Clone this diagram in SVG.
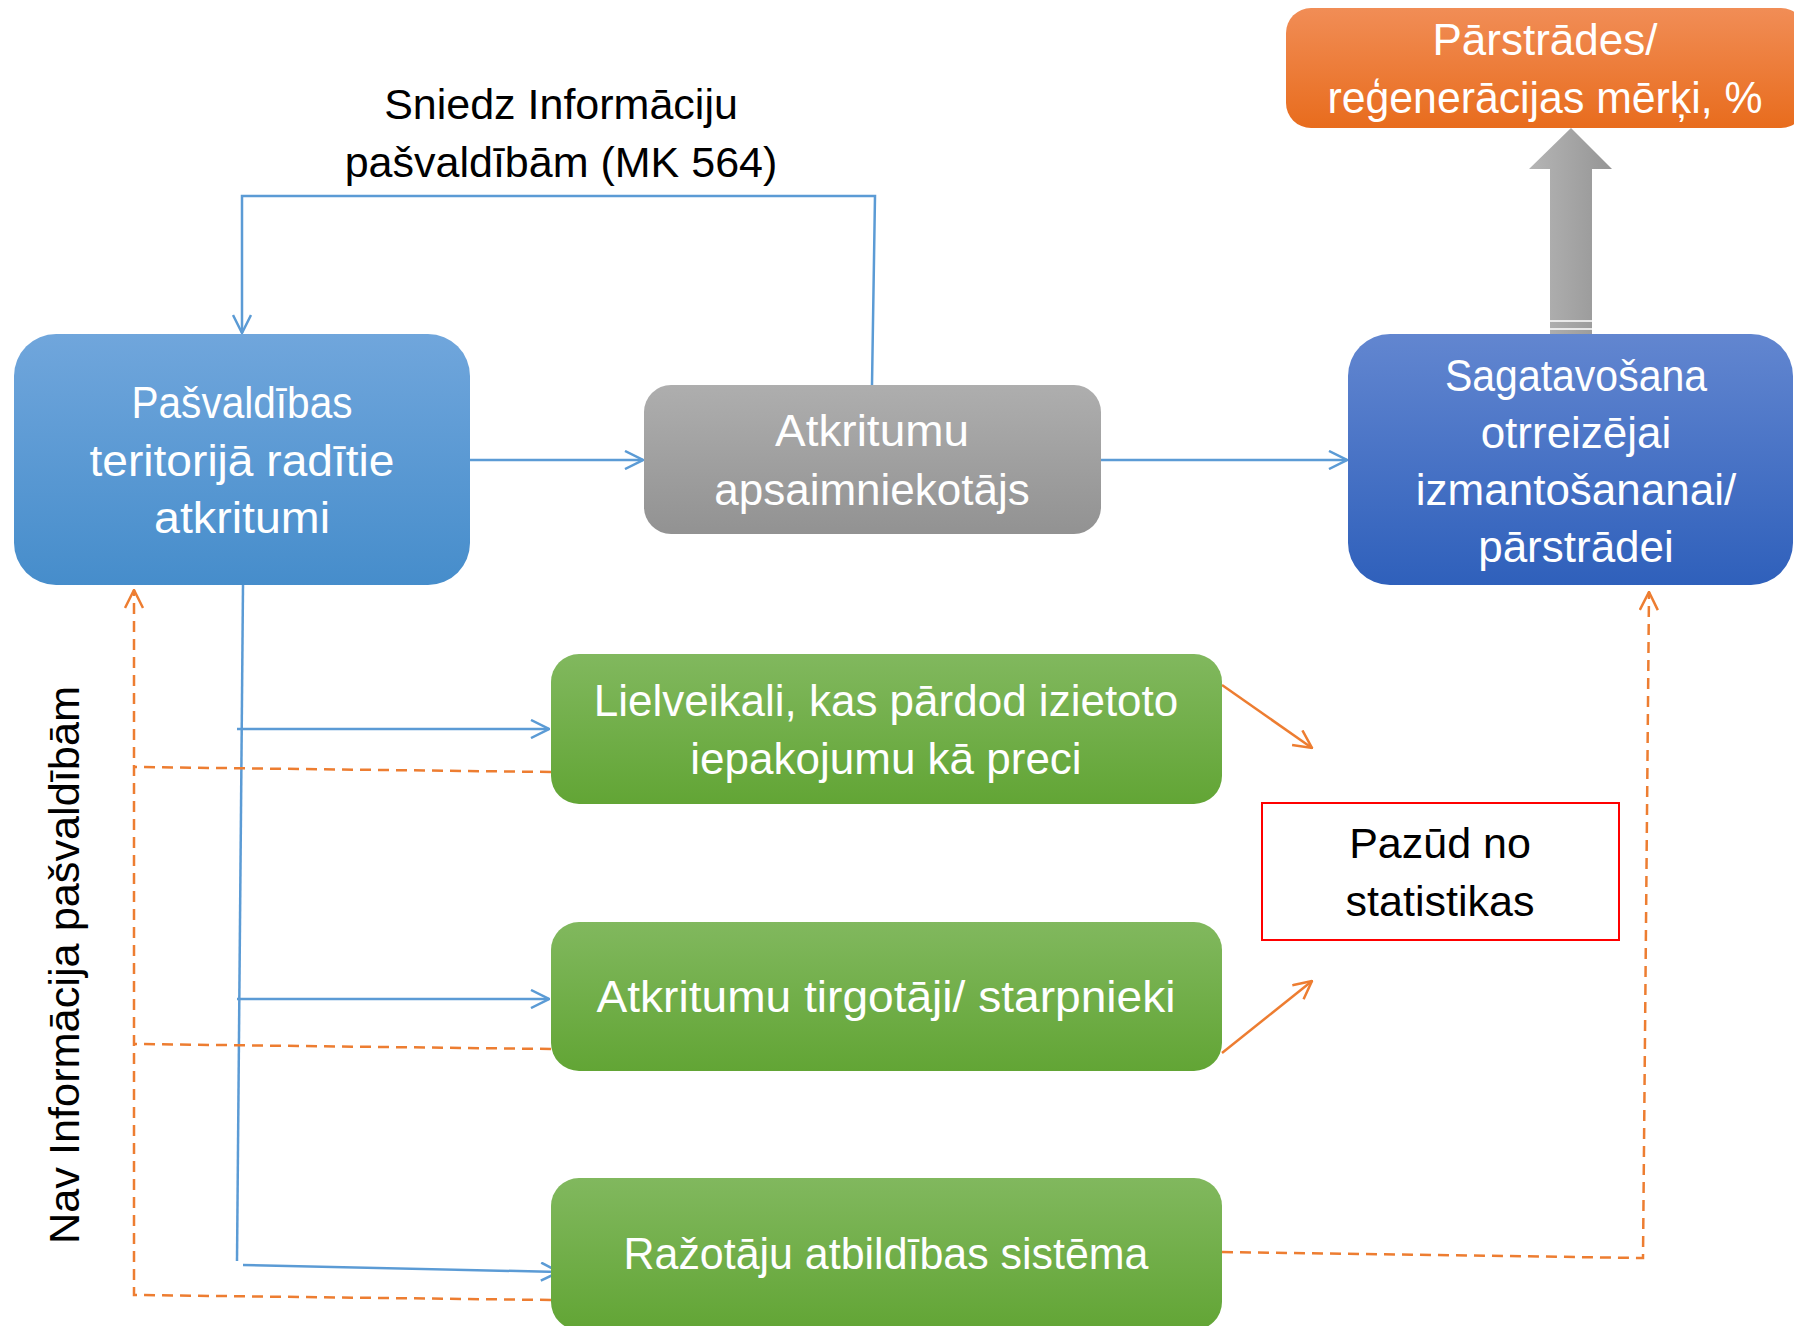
<svg xmlns="http://www.w3.org/2000/svg" width="1794" height="1326" viewBox="0 0 1794 1326">
<defs>
<linearGradient id="gOrange" x1="0" y1="0" x2="0" y2="1"><stop offset="0" stop-color="#f18d56"/><stop offset="1" stop-color="#e86c1d"/></linearGradient>
<linearGradient id="gBlueL" x1="0" y1="0" x2="0" y2="1"><stop offset="0" stop-color="#70a6dc"/><stop offset="1" stop-color="#468dcb"/></linearGradient>
<linearGradient id="gBlueR" x1="0" y1="0" x2="0" y2="1"><stop offset="0" stop-color="#6286d0"/><stop offset="1" stop-color="#2f60bb"/></linearGradient>
<linearGradient id="gGray" x1="0" y1="0" x2="0" y2="1"><stop offset="0" stop-color="#aeaeae"/><stop offset="1" stop-color="#929292"/></linearGradient>
<linearGradient id="gGreen" x1="0" y1="0" x2="0" y2="1"><stop offset="0" stop-color="#81b85e"/><stop offset="1" stop-color="#62a535"/></linearGradient>
<linearGradient id="gArrow" x1="0" y1="0" x2="1" y2="0"><stop offset="0" stop-color="#b5b5b5"/><stop offset="1" stop-color="#959595"/></linearGradient>
<marker id="aBlue" viewBox="0 0 20 20" refX="19" refY="10" markerWidth="20" markerHeight="20" markerUnits="userSpaceOnUse" orient="auto"><path d="M1,1 L19,10 L1,19" fill="none" stroke="#5b9bd5" stroke-width="2.5"/></marker>
<marker id="aOrange" viewBox="0 0 20 20" refX="19" refY="10" markerWidth="20" markerHeight="20" markerUnits="userSpaceOnUse" orient="auto"><path d="M1,1 L19,10 L1,19" fill="none" stroke="#ed7d31" stroke-width="2.5"/></marker>
</defs>
<style>
.w{font-family:"Liberation Sans",Arial,sans-serif;font-size:44px;fill:#ffffff;text-anchor:middle}
.b{font-family:"Liberation Sans",Arial,sans-serif;font-size:43px;fill:#000000;text-anchor:middle}
.cb{fill:none;stroke:#5b9bd5;stroke-width:2.5}
.co{fill:none;stroke:#ed7d31;stroke-width:2.5}
.cod{fill:none;stroke:#ed7d31;stroke-width:2.5;stroke-dasharray:11 7}
</style>
<rect width="1794" height="1326" fill="#ffffff"/>

<g id="connectors">
<polyline class="cb" points="872,385 875,196 242,196 242,333" marker-end="url(#aBlue)"/>
<line class="cb" x1="470" y1="460" x2="643" y2="460" marker-end="url(#aBlue)"/>
<line class="cb" x1="1101" y1="460" x2="1347" y2="460" marker-end="url(#aBlue)"/>
<line class="cb" x1="243" y1="585" x2="237" y2="1261"/>
<line class="cb" x1="237" y1="729" x2="549" y2="729" marker-end="url(#aBlue)"/>
<line class="cb" x1="237" y1="999" x2="549" y2="999" marker-end="url(#aBlue)"/>
<line class="cb" x1="243" y1="1265" x2="559" y2="1272" marker-end="url(#aBlue)"/>
<line class="cod" x1="551" y1="772" x2="134" y2="767"/>
<line class="cod" x1="551" y1="1049" x2="134" y2="1044"/>
<polyline class="cod" points="551,1300 134,1295 134,590" marker-end="url(#aOrange)"/>
<polyline class="cod" points="1222,1252 1643,1258 1649,592" marker-end="url(#aOrange)"/>
<line class="co" x1="1222" y1="685" x2="1312" y2="748" marker-end="url(#aOrange)"/>
<line class="co" x1="1222" y1="1053" x2="1312" y2="981" marker-end="url(#aOrange)"/>
</g>

<g id="bigArrow">
<polygon points="1571,128 1612,169 1592,169 1592,334 1550,334 1550,169 1529,169" fill="url(#gArrow)"/>
<line x1="1550" y1="321" x2="1592" y2="321" stroke="#ffffff" stroke-width="1.5"/>
<line x1="1550" y1="329" x2="1592" y2="329" stroke="#ffffff" stroke-width="1.5"/>
</g>

<g id="targets">
<rect x="1286" y="8" width="520" height="120" rx="25" fill="url(#gOrange)"/>
<text class="w" x="1545" y="55">Pārstrādes/</text>
<text class="w" x="1545" y="113" textLength="435" lengthAdjust="spacingAndGlyphs">reģenerācijas mērķi, %</text>
</g>

<g id="label-top">
<text class="b" x="561" y="119">Sniedz Informāciju</text>
<text class="b" x="561" y="177">pašvaldībām (MK 564)</text>
</g>

<g id="label-left">
<text class="b" transform="translate(79,965) rotate(-90)" x="0" y="0" textLength="558" lengthAdjust="spacingAndGlyphs">Nav Informācija pašvaldībām</text>
</g>

<g id="municipal">
<rect x="14" y="334" width="456" height="251" rx="42" fill="url(#gBlueL)"/>
<text class="w" x="242" y="418" textLength="221" lengthAdjust="spacingAndGlyphs">Pašvaldības</text>
<text class="w" x="242" y="476" textLength="305" lengthAdjust="spacingAndGlyphs">teritorijā radītie</text>
<text class="w" x="242" y="533" textLength="176" lengthAdjust="spacingAndGlyphs">atkritumi</text>
</g>

<g id="manager">
<rect x="644" y="385" width="457" height="149" rx="27" fill="url(#gGray)"/>
<text class="w" x="872" y="446" textLength="194" lengthAdjust="spacingAndGlyphs">Atkritumu</text>
<text class="w" x="872" y="505">apsaimniekotājs</text>
</g>

<g id="preparation">
<rect x="1348" y="334" width="445" height="251" rx="42" fill="url(#gBlueR)"/>
<text class="w" x="1576" y="391" textLength="262" lengthAdjust="spacingAndGlyphs">Sagatavošana</text>
<text class="w" x="1576" y="448">otrreizējai</text>
<text class="w" x="1576" y="505">izmantošananai/</text>
<text class="w" x="1576" y="562">pārstrādei</text>
</g>

<g id="supermarkets">
<rect x="551" y="654" width="671" height="150" rx="28" fill="url(#gGreen)"/>
<text class="w" x="886" y="716">Lielveikali, kas pārdod izietoto</text>
<text class="w" x="886" y="774">iepakojumu kā preci</text>
</g>

<g id="traders">
<rect x="551" y="922" width="671" height="149" rx="28" fill="url(#gGreen)"/>
<text class="w" x="886" y="1012" textLength="579" lengthAdjust="spacingAndGlyphs">Atkritumu tirgotāji/ starpnieki</text>
</g>

<g id="epr">
<rect x="551" y="1178" width="671" height="152" rx="28" fill="url(#gGreen)"/>
<text class="w" x="886" y="1269" textLength="525" lengthAdjust="spacingAndGlyphs">Ražotāju atbildības sistēma</text>
</g>

<g id="lost">
<rect x="1262" y="803" width="357" height="137" fill="#ffffff" stroke="#ff0000" stroke-width="2"/>
<text class="b" x="1440" y="858">Pazūd no</text>
<text class="b" x="1440" y="916">statistikas</text>
</g>
</svg>
